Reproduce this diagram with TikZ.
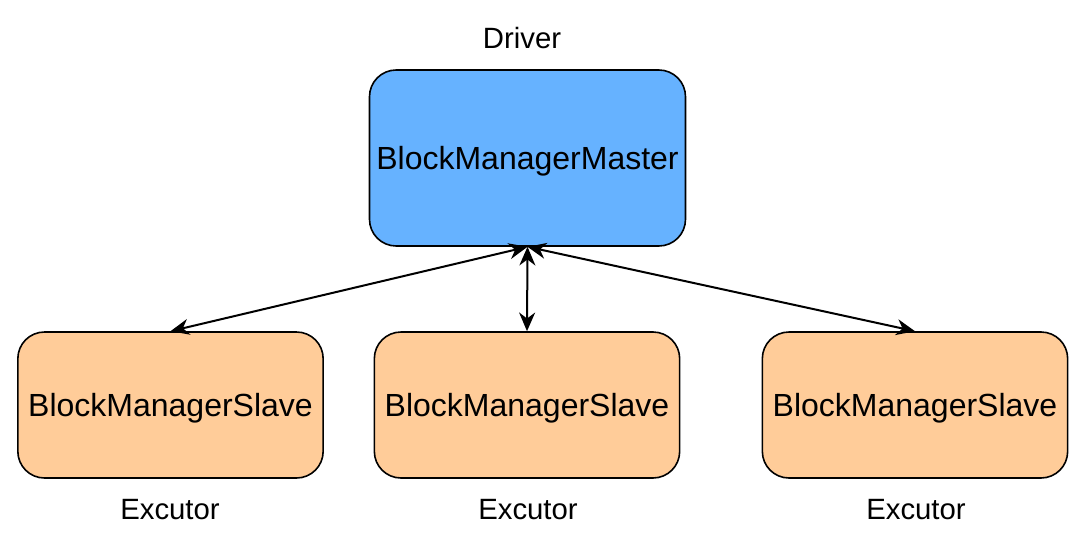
\documentclass[tikz,border=0pt]{standalone}
\usepackage{fontspec}
\setmainfont{Liberation Sans}
\usetikzlibrary{arrows.meta}
\definecolor{masterblau}{HTML}{66B2FF}
\definecolor{slaveorange}{HTML}{FFCC99}
\begin{document}
\begin{tikzpicture}[x=0.75pt,y=-0.75pt,
    box/.style={draw, line width=1.2pt, rounded corners=20pt, inner sep=0pt,
        text depth=0pt, font=\fontsize{24}{28}\selectfont},
    masterbox/.style={box, fill=masterblau, minimum width=237pt, minimum height=132pt},
    slavebox/.style={box, fill=slaveorange, minimum width=229pt, minimum height=109.5pt},
    beschr/.style={font=\fontsize{22}{26}\selectfont},
    pfeil/.style={line width=1.5pt,
        {Stealth[length=14pt,width=12pt,inset=4.5pt]}-{Stealth[length=14pt,width=12pt,inset=4.5pt]}}]
    \useasboundingbox (0,0) rectangle (1085,546);

    % Driver oben
    \node[masterbox] (master) at (527.5,158) {BlockManagerMaster};
    \node[beschr] (driver) at (522,38) {Driver};

    % Executoren unten
    \node[slavebox] (slaveA) at (170.5,405) {BlockManagerSlave};
    \node[slavebox] (slaveB) at (527,405) {BlockManagerSlave};
    \node[slavebox] (slaveC) at (915,405) {BlockManagerSlave};
    \node[beschr] (exA) at (170,510) {Excutor};
    \node[beschr] (exB) at (528,510) {Excutor};
    \node[beschr] (exC) at (916,510) {Excutor};

    % Verbindungen
    \draw[pfeil] (master.south) -- (slaveA.north);
    \draw[pfeil] (master.south) -- (slaveB.north);
    \draw[pfeil] (master.south) -- (slaveC.north);
\end{tikzpicture}
\end{document}
